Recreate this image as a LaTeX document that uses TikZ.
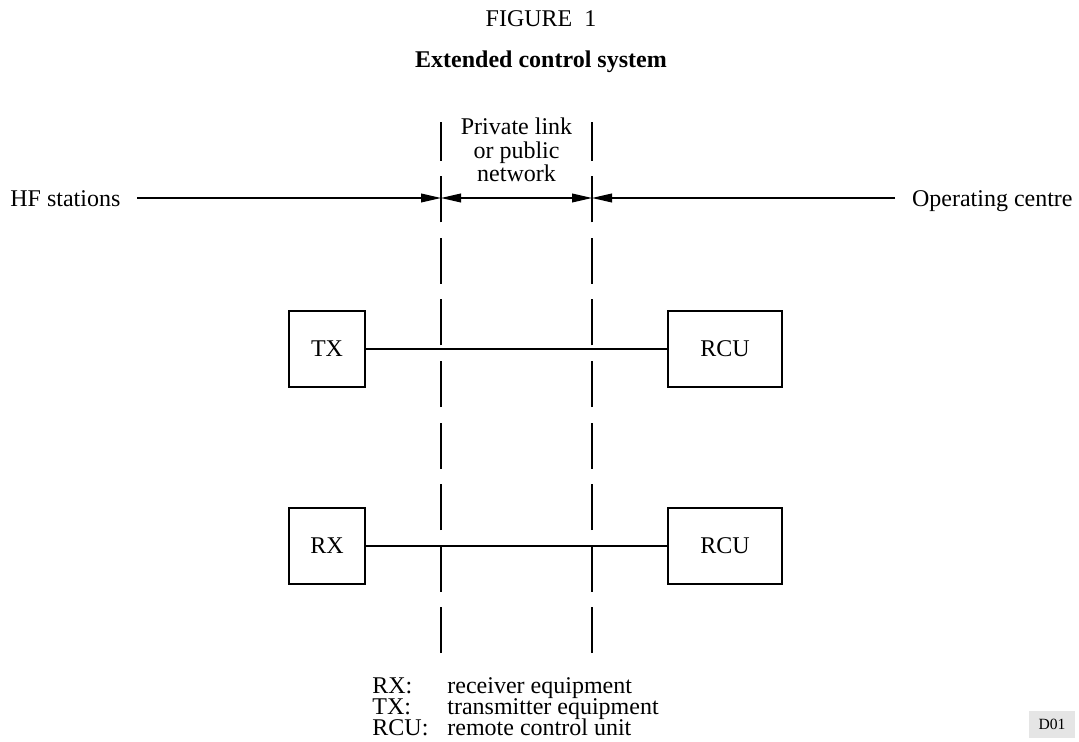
\documentclass[tikz,border=0pt]{standalone}
\usepackage{fontspec}
\setmainfont{Liberation Serif}
\usetikzlibrary{arrows.meta}
\begin{document}
\begin{tikzpicture}[x=0.5pt,y=-0.5pt,
  txt/.style={inner sep=0pt,font=\fontsize{12}{12}\selectfont},
  unit/.style={draw,line width=0.7pt,inner sep=0pt,minimum height=38pt,font=\fontsize{12}{12}\selectfont},
  wire/.style={line width=0.6pt},
  divider/.style={line width=0.6pt,dash pattern=on 23pt off 7.75pt}]
\useasboundingbox (0,0) rectangle (1079,742);
% titles
\node[txt,anchor=base] (fig) at (541,27) {FIGURE\ \ 1};
\node[txt,anchor=base,font=\fontsize{12}{12}\selectfont\bfseries] (title) at (541,68) {Extended control system};
% side labels
\node[txt,anchor=base west] (hf) at (10,207) {HF stations};
\node[txt,anchor=base east] (op) at (1073,207) {Operating centre};
\node[txt,anchor=base,align=center,font=\fontsize{12}{11.75}\selectfont] (priv) at (516.5,182) {Private link\\or public\\network};
% dividers
\coordinate (d1t) at (441,122); \coordinate (d1b) at (441,653);
\coordinate (d2t) at (592,122); \coordinate (d2b) at (592,653);
\draw[divider] (d1b) -- (d1t);
\draw[divider] (d2b) -- (d2t);
% dimension line
\coordinate (hl) at (137,198);
\coordinate (hr) at (895,198);
\coordinate (a1) at (441,198);
\coordinate (a2) at (592,198);
\draw[wire,-{Triangle[length=10pt,width=4.4pt]}] (hl) -- (a1);
\draw[wire,{Triangle[length=10pt,width=4.4pt]}-{Triangle[length=10pt,width=4.4pt]}] (a1) -- (a2);
\draw[wire,-{Triangle[length=10pt,width=4.4pt]}] (hr) -- (a2);
% units
\node[unit,minimum width=38pt] (tx) at (327,349) {TX};
\node[unit,minimum width=57pt] (rcu1) at (725,349) {RCU};
\node[unit,minimum width=38pt] (rx) at (327,546) {RX};
\node[unit,minimum width=57pt] (rcu2) at (725,546) {RCU};
\draw[wire] (tx) -- (rcu1);
\draw[wire] (rx) -- (rcu2);
% legend
\node[txt,anchor=base west] (l1a) at (372,693) {RX:};
\node[txt,anchor=base west] (l1b) at (447,693) {receiver equipment};
\node[txt,anchor=base west] (l2a) at (372,714) {TX:};
\node[txt,anchor=base west] (l2b) at (447,714) {transmitter equipment};
\node[txt,anchor=base west] (l3a) at (372,735) {RCU:};
\node[txt,anchor=base west] (l3b) at (447,735) {remote control unit};
% tag
\node[fill=black!10,inner sep=0pt,minimum width=23pt,minimum height=13.5pt,font=\fontsize{7.8}{8}\selectfont] (tag) at (1052,724) {D01};
\end{tikzpicture}
\end{document}
